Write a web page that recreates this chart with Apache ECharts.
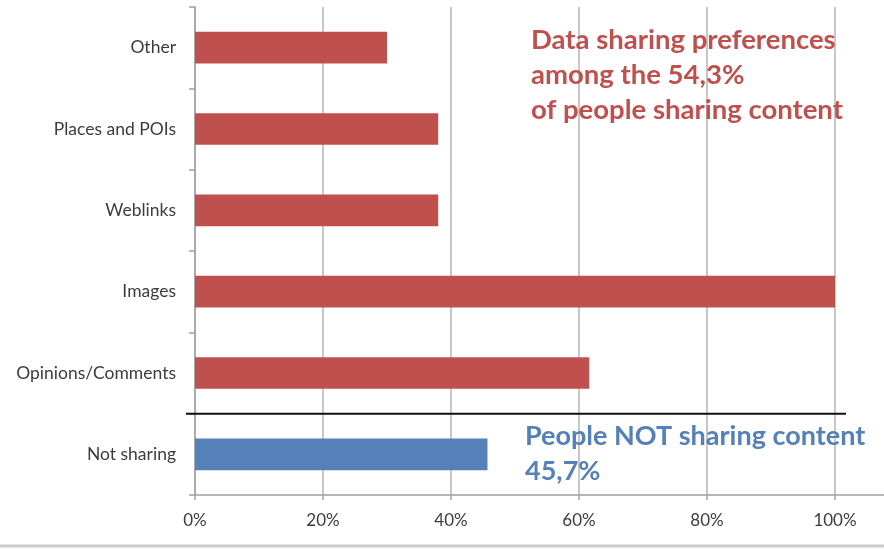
<!DOCTYPE html>
<html>
<head>
<meta charset="utf-8">
<title>Data sharing preferences</title>
<script src="https://cdn.jsdelivr.net/npm/echarts@6/dist/echarts.min.js"></script>
<style>
  html, body { margin: 0; padding: 0; background: #fff; }
  #chart { width: 884px; height: 550px; }
</style>
</head>
<body>
<div id="chart"></div>
<script>
// Categories listed bottom-to-top (category axis starts at the bottom)
const categories = ['Not sharing', 'Opinions/Comments', 'Images', 'Weblinks', 'Places and POIs', 'Other'];
// Share of respondents, in percent
const shareValues = [45.7, 61.6, 100, 38, 38, 30];
// Which group each row belongs to
const groups = ['not', 'sharing', 'sharing', 'sharing', 'sharing', 'sharing'];
const xTicks = [0, 20, 40, 60, 80, 100];

const RED = '#c0504d';
const BLUE = '#5580b8';
const FONT = 'Lato, "Open Sans", sans-serif';

const chart = echarts.init(document.getElementById('chart'), null, { renderer: 'canvas' });

const option = {
  animation: false,
  backgroundColor: '#ffffff',
  grid: { left: 195, top: 7, width: 640, height: 488 },
  xAxis: {
    type: 'value',
    min: xTicks[0],
    max: xTicks[xTicks.length - 1],
    interval: xTicks[1] - xTicks[0],
    axisLine: { show: true, lineStyle: { color: '#a0a0a0', width: 1.5 } },
    axisTick: { show: true, length: 5, lineStyle: { color: '#a0a0a0', width: 1.5 } },
    axisLabel: {
      margin: 17,
      formatter: '{value}%',
      color: '#3c3c3c',
      fontFamily: FONT,
      fontSize: 17
    },
    splitLine: { show: true, lineStyle: { color: '#b4b4b4', width: 1.5 } }
  },
  yAxis: {
    type: 'category',
    data: categories,
    axisLine: { show: true, lineStyle: { color: '#a0a0a0', width: 1.5 } },
    axisTick: { show: true, length: 6, lineStyle: { color: '#a0a0a0', width: 1.5 } },
    axisLabel: {
      margin: 19,
      color: '#3c3c3c',
      fontFamily: FONT,
      fontSize: 17.5
    },
    splitLine: { show: false }
  },
  series: [{
    type: 'bar',
    barWidth: '39%',
    data: shareValues.map((v, i) => ({
      value: v,
      itemStyle: { color: groups[i] === 'not' ? BLUE : RED }
    })),
    z: 3
  }]
};

chart.setOption(option);

// Reference lines and annotations placed from the axes' own scales
const yNot = chart.convertToPixel({ yAxisIndex: 0 }, categories[0]);
const yNext = chart.convertToPixel({ yAxisIndex: 0 }, categories[1]);
const sepY = (yNot + yNext) / 2;
const x0 = chart.convertToPixel({ xAxisIndex: 0 }, xTicks[0]);
const x100 = chart.convertToPixel({ xAxisIndex: 0 }, xTicks[xTicks.length - 1]);
const axisY = yNot + (yNot - yNext) / 2;

chart.setOption({
  graphic: [
    // divider between the two groups
    {
      type: 'line', z: 10,
      shape: { x1: x0 - 9, y1: sepY, x2: x100 + 11, y2: sepY },
      style: { stroke: '#111111', lineWidth: 2 }
    },
    // axis line continues to the right edge
    {
      type: 'line', z: 2,
      shape: { x1: x100, y1: axisY, x2: 884, y2: axisY },
      style: { stroke: '#a0a0a0', lineWidth: 1.5 }
    },
    // bottom border
    {
      type: 'line', z: 2,
      shape: { x1: 0, y1: 546, x2: 884, y2: 546 },
      style: { stroke: '#cccccc', lineWidth: 3 }
    },
    {
      type: 'text', z: 20, left: 531, top: 23,
      style: {
        text: 'Data sharing preferences\namong the 54,3%\nof people sharing content',
        fill: RED,
        font: 'bold 27.5px ' + FONT,
        lineHeight: 35
      }
    },
    {
      type: 'text', z: 20, left: 525, top: 419,
      style: {
        text: 'People NOT sharing content\n45,7%',
        fill: BLUE,
        font: 'bold 27px ' + FONT,
        lineHeight: 35
      }
    }
  ]
});
</script>
</body>
</html>
